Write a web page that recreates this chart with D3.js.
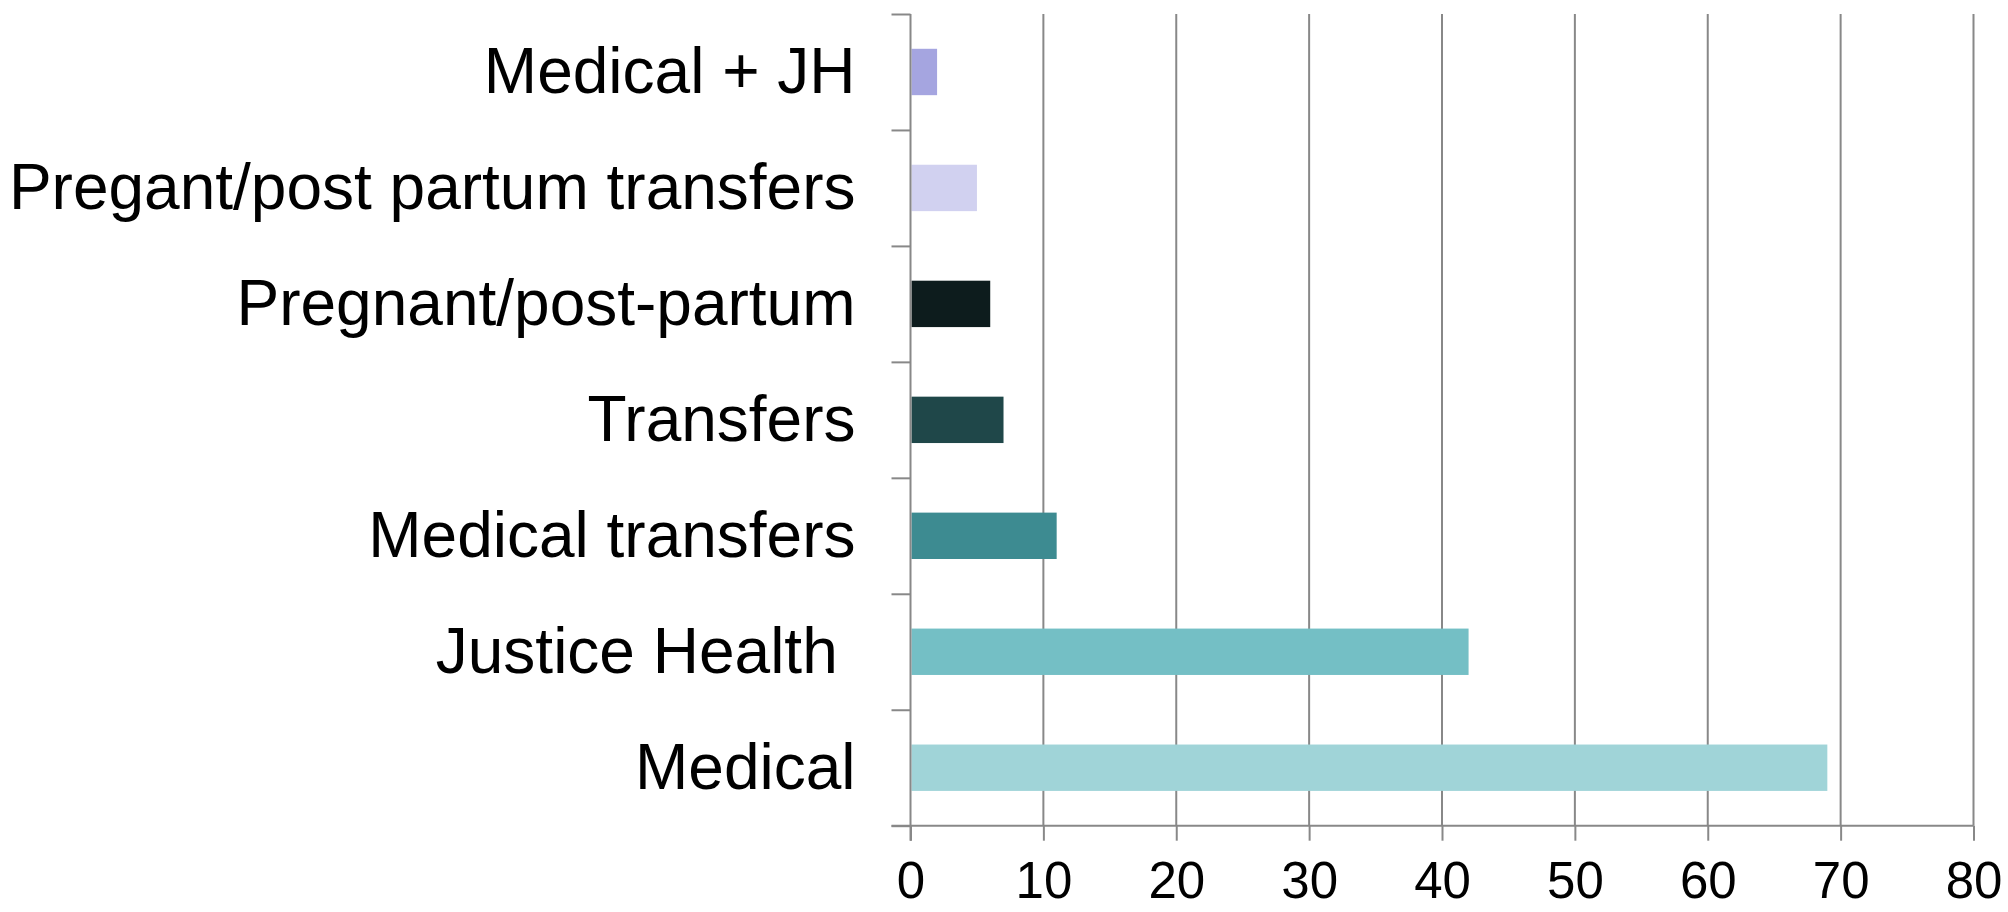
<!DOCTYPE html>
<html>
<head>
<meta charset="utf-8">
<script src="https://cdn.jsdelivr.net/npm/d3@7"></script>
<style>
  html, body { margin: 0; padding: 0; background: #fff; }
  svg { display: block; }
</style>
</head>
<body>
<div id="chart"></div>
<script>
// Data, top to bottom as drawn
var categories = ["Medical + JH", "Pregant/post partum transfers", "Pregnant/post-partum",
  "Transfers", "Medical transfers", "Justice Health ", "Medical"];
var values = [2, 5, 6, 7, 11, 42, 69];
var barColours = ["#a5a5e0", "#d1d1f0", "#0d1c1d", "#1f4749", "#3d8b91", "#74bfc5", "#a0d4d8"];
var xTicks = [0, 10, 20, 30, 40, 50, 60, 70, 80];

var width = 2008, height = 912;
var margin = { top: 14, right: 34.5, bottom: 86.3, left: 910.5 };
var innerW = width - margin.left - margin.right;
var innerH = height - margin.top - margin.bottom;
var gridColour = "#888888";
var fontFam = "'Liberation Sans', Arial, sans-serif";

var svg = d3.select("#chart").append("svg")
  .attr("width", width).attr("height", height);

var g = svg.append("g")
  .attr("transform", "translate(" + margin.left + "," + margin.top + ")");

var x = d3.scaleLinear().domain([0, 80]).range([0, innerW]);
var y = d3.scaleBand().domain(categories).range([0, innerH])
  .paddingInner(0.6).paddingOuter(0.3);
// index scale for the ticks between categories
var yIdx = d3.scaleLinear().domain([0, categories.length]).range([0, innerH]);

// Vertical grid lines
g.selectAll(".grid")
  .data(xTicks.filter(function (d) { return d > 0; })).join("line")
    .attr("class", "grid")
    .attr("x1", function (d) { return x(d); }).attr("x2", function (d) { return x(d); })
    .attr("y1", 0).attr("y2", innerH)
    .attr("stroke", gridColour).attr("stroke-width", 2);

// Bars
g.selectAll(".bar")
  .data(categories).join("rect")
    .attr("class", "bar")
    .attr("x", x(0) + 1)
    .attr("y", function (d) { return y(d); })
    .attr("width", function (d, i) { return x(values[i]) - x(0) - 1; })
    .attr("height", y.bandwidth())
    .attr("fill", function (d, i) { return barColours[i]; });

// Bottom axis
g.append("g")
  .attr("transform", "translate(0," + innerH + ")")
  .call(d3.axisBottom(x).tickValues(xTicks).tickSize(15).tickSizeOuter(0).tickPadding(21))
  .call(function (gg) { gg.select(".domain").attr("stroke", gridColour).attr("stroke-width", 2)
      .attr("d", "M-19,0H" + innerW); })
  .call(function (gg) { gg.selectAll(".tick line").attr("stroke", gridColour).attr("stroke-width", 2); })
  .call(function (gg) { gg.selectAll(".tick text").attr("font-family", fontFam)
      .attr("font-size", 51).attr("fill", "#000"); });

// Left axis: boundary ticks
g.append("g")
  .call(d3.axisLeft(yIdx).tickValues(d3.range(categories.length + 1)).tickSize(19).tickSizeOuter(0).tickFormat(""))
  .call(function (gg) { gg.select(".domain").attr("stroke", gridColour).attr("stroke-width", 2)
      .attr("d", "M0,0V" + (innerH + 15)); })
  .call(function (gg) { gg.selectAll(".tick line").attr("stroke", gridColour).attr("stroke-width", 2); });

// Category labels
g.append("g")
  .call(d3.axisLeft(y).tickSize(0).tickPadding(55))
  .call(function (gg) { gg.select(".domain").remove(); })
  .call(function (gg) { gg.selectAll(".tick text").attr("font-family", fontFam)
      .attr("font-size", 64).attr("fill", "#000").attr("dy", "0.33em")
      .style("white-space", "pre"); });
</script>
</body>
</html>
